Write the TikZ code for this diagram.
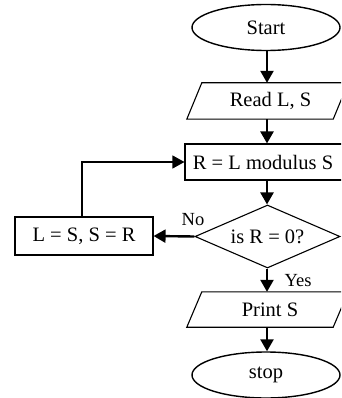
\documentclass[tikz,border=0pt]{standalone}
\usepackage{fontspec}
\setmainfont{Liberation Serif}
\usetikzlibrary{shapes.geometric,arrows.meta,calc}
\begin{document}
\begin{tikzpicture}[x=1pt,y=-1pt,
  every node/.style={font=\fontsize{20.5}{24}\selectfont, inner sep=0pt},
  term/.style={ellipse, draw, line width=1.4pt, minimum width=148pt, minimum height=46pt},
  proc/.style={rectangle, draw, line width=1.1pt},
  iobox/.style={rectangle, minimum width=146pt},
  decide/.style={diamond, draw, line width=1.1pt, aspect=2.3, minimum width=145pt, minimum height=63pt},
  flow/.style={line width=2.4pt, -{Triangle[length=12pt,width=13pt]}},
  thinflow/.style={line width=1.2pt, -{Triangle[length=12pt,width=13pt]}},
  lbl/.style={font=\fontsize{18.5}{21}\selectfont}
]
\useasboundingbox (0,0) rectangle (341,398);
\clip (0,0) rectangle (341,398);
\fill[white] (0,0) rectangle (341,398);

\node[term] (start) at (266,27.5) {Start};
\node[iobox, minimum height=36pt] (read) at (267.5,101) {\hspace*{6pt}Read L, S};
\node[proc, minimum width=164pt, minimum height=36pt] (calc) at (267,162) {R = L modulus S\hspace*{8pt}};
\node[decide] (test) at (267.5,236.5) {is R = 0?};
\node[proc, minimum width=138pt, minimum height=38pt] (swap) at (84,236) {L = S, S = R};
\node[iobox, minimum height=35pt] (print) at (267.5,309.5) {\hspace*{5pt}Print S};
\node[term] (stop) at (266,375) {stop};

\foreach \n in {read,print}{
  \draw[line width=1.1pt] ($(\n.north west)+(7.5,0)$) -- ($(\n.north east)+(7.5,0)$)
    -- ($(\n.south east)+(-7.5,0)$) -- ($(\n.south west)+(-7.5,0)$) -- cycle;
}

\draw[flow] (start.south -| calc) -- (read.north -| calc);
\draw[flow] (read.south -| calc) -- (calc.north);
\draw[flow] (calc.south) -- (test.north -| calc);
\draw[flow] (test.south -| calc) -- (print.north -| calc);
\draw[flow] (print.south -| calc) -- (stop.north -| calc);
\draw[flow] (test.west) -- (swap.east);
\draw[thinflow] ([xshift=-2pt]swap.north) |- (calc.west);

\node[lbl] (no) at (193,220) {No};
\node[lbl] (yes) at (298,281) {Yes};
\end{tikzpicture}
\end{document}
